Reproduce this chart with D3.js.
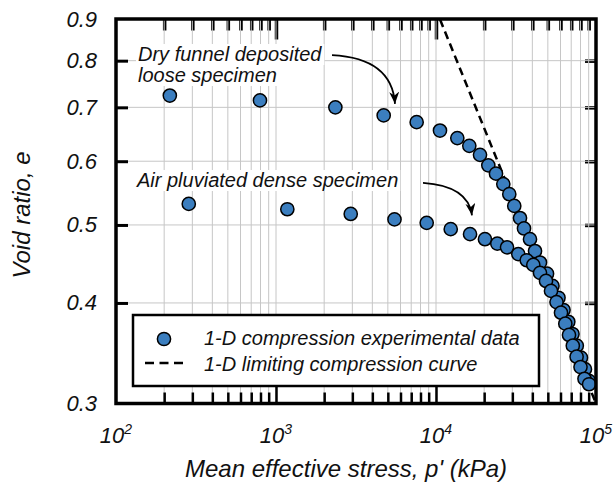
<!DOCTYPE html>
<html>
<head>
<meta charset="utf-8">
<script src="https://cdn.jsdelivr.net/npm/d3@7"></script>
<style>
  body { margin: 0; background: #fff; }
  text { font-family: "Liberation Sans", Arial, sans-serif; font-style: italic; fill: #111; }
</style>
</head>
<body>
<svg id="chart" width="614" height="487"></svg>
<script>
// Dry funnel deposited loose specimen: mean effective stress p' (kPa) and void ratio e
const looseP = [217, 794, 2350, 4710, 7570, 10590, 13590, 16150, 18840, 21230, 23710, 26340, 28710, 30840,
                33500, 35480, 38680, 41580, 44670, 49430, 53460, 58300, 62660, 67130, 71300, 75860, 80540, 85310, 90380];
const looseE = [0.724, 0.714, 0.700, 0.684, 0.671, 0.655, 0.641, 0.627, 0.611, 0.593, 0.579, 0.562, 0.546, 0.528,
                0.510, 0.495, 0.480, 0.464, 0.449, 0.435, 0.420, 0.406, 0.392, 0.379, 0.366, 0.354, 0.342, 0.331, 0.320];

// Air pluviated dense specimen
const denseP = [285, 1177, 2931, 5503, 8748, 12360, 16320, 20230, 24160, 27790, 32690, 36890, 40560, 44670,
                48700, 52330, 56640, 60430, 64290, 67800, 71620, 75650, 80010, 84730, 90500];
const denseE = [0.531, 0.523, 0.516, 0.508, 0.503, 0.494, 0.487, 0.480, 0.474, 0.469, 0.460, 0.452, 0.446, 0.436,
                0.426, 0.414, 0.401, 0.389, 0.377, 0.365, 0.354, 0.343, 0.333, 0.322, 0.317];

// 1-D limiting compression curve (straight in log-log space)
const lccP = [10600, 100000];
const lccE = [0.9, 0.3];

// Axis ticks and labels
const xDecades = [100, 1000, 10000, 100000];
const xExponents = ["2", "3", "4", "5"];
const yTicks = [0.3, 0.4, 0.5, 0.6, 0.7, 0.8, 0.9];
const yTickLabels = ["0.3", "0.4", "0.5", "0.6", "0.7", "0.8", "0.9"];

const xTitle = "Mean effective stress, p' (kPa)";
const yTitle = "Void ratio, e";
const legendLabels = ["1-D compression experimental data", "1-D limiting compression curve"];

const svg = d3.select("#chart");
const x = d3.scaleLog().domain([100, 100000]).range([116, 596]);
const y = d3.scaleLog().domain([0.3, 0.9]).range([403.5, 19.5]);

const pLeft = x(100), pRight = x(100000), pTop = y(0.9), pBottom = y(0.3);

const xMinor = [];
[100, 1000, 10000].forEach(d => { for (let k = 2; k <= 9; k++) xMinor.push(d * k); });
const xInnerMajor = [1000, 10000];
const yInner = yTicks.filter(v => v > 0.3 && v < 0.9);

const blue = "#3b7ebf";

// Ticks on top and right (grid runs over them)
function styleTicks(g, w) {
  g.select(".domain").remove();
  g.selectAll(".tick line").attr("stroke", "#000").attr("stroke-width", w);
}
svg.append("g").attr("transform", `translate(0,${pTop})`)
  .call(d3.axisTop(x).tickValues(xMinor).tickSize(-11).tickFormat(""))
  .call(g => styleTicks(g, 3.5));
svg.append("g").attr("transform", `translate(0,${pTop})`)
  .call(d3.axisTop(x).tickValues(xInnerMajor).tickSize(-20).tickFormat(""))
  .call(g => styleTicks(g, 3.5));
svg.append("g").attr("transform", `translate(${pRight},0)`)
  .call(d3.axisRight(y).tickValues(yInner).tickSize(-11).tickFormat(""))
  .call(g => styleTicks(g, 3.5));

// Grid
const grid = svg.append("g").attr("stroke", "#c6c6c6").attr("stroke-width", 1);
grid.selectAll("line.gx").data(xMinor.concat(xInnerMajor)).join("line").attr("class", "gx")
  .attr("x1", d => x(d)).attr("x2", d => x(d)).attr("y1", pTop).attr("y2", pBottom);
grid.selectAll("line.gy").data(yInner).join("line").attr("class", "gy")
  .attr("x1", pLeft).attr("x2", pRight).attr("y1", d => y(d)).attr("y2", d => y(d));

// Ticks on bottom and left
svg.append("g").attr("transform", `translate(0,${pBottom})`)
  .call(d3.axisBottom(x).tickValues(xMinor).tickSize(-11).tickFormat(""))
  .call(g => styleTicks(g, 2.5));
svg.append("g").attr("transform", `translate(0,${pBottom})`)
  .call(d3.axisBottom(x).tickValues(xInnerMajor).tickSize(-17).tickFormat(""))
  .call(g => styleTicks(g, 2.5));
svg.append("g").attr("transform", `translate(${pLeft},0)`)
  .call(d3.axisLeft(y).tickValues(yInner).tickSize(-12).tickFormat(""))
  .call(g => styleTicks(g, 3));

// Annotation text with white backing
function annot(lines, x0, baselines) {
  const g = svg.append("g");
  const t = g.append("g");
  lines.forEach((s, i) => {
    t.append("text").attr("x", x0).attr("y", baselines[i]).attr("font-size", 20).text(s);
  });
  t.selectAll("text").each(function () {
    const b = this.getBBox();
    g.insert("rect", ":first-child").attr("x", b.x - 2).attr("y", b.y + 1)
      .attr("width", b.width + 4).attr("height", b.height - 1).attr("fill", "#fff");
  });
}
annot(["Dry funnel deposited", "loose specimen"], 138, [61, 82]);
annot(["Air pluviated dense specimen"], 137, [187]);

// Arrows
svg.append("defs").append("marker")
  .attr("id", "head").attr("viewBox", "0 0 12 10").attr("refX", 12).attr("refY", 5)
  .attr("markerWidth", 12).attr("markerHeight", 10).attr("markerUnits", "userSpaceOnUse")
  .attr("orient", "auto")
  .append("path").attr("d", "M0,0 L12,5 L0,10 L3.5,5 Z").attr("fill", "#000");

const arrows = [
  { from: [2239, 0.813], ctrl: [5309, 0.806], to: [5543, 0.707] },
  { from: [8294, 0.5638], ctrl: [15850, 0.559], to: [16790, 0.514] }
];
arrows.forEach(a => {
  const p = d3.path();
  p.moveTo(x(a.from[0]), y(a.from[1]));
  p.quadraticCurveTo(x(a.ctrl[0]), y(a.ctrl[1]), x(a.to[0]), y(a.to[1]));
  svg.append("path").attr("d", p.toString()).attr("fill", "none")
    .attr("stroke", "#000").attr("stroke-width", 1.8).attr("marker-end", "url(#head)");
});

// Clip region for plot marks
svg.append("clipPath").attr("id", "plotclip").append("rect")
  .attr("x", pLeft).attr("y", pTop).attr("width", pRight - pLeft).attr("height", pBottom - pTop);

// Limiting compression curve
const lcc = lccP.map((p, i) => [p, lccE[i]]);
svg.append("path").attr("clip-path", "url(#plotclip)")
  .attr("d", d3.line().x(d => x(d[0])).y(d => y(d[1]))(lcc))
  .attr("fill", "none").attr("stroke", "#000").attr("stroke-width", 2.5).attr("stroke-dasharray", "8,5");

// Experimental points
const loose = looseP.map((p, i) => [p, looseE[i]]);
const dense = denseP.map((p, i) => [p, denseE[i]]);
[loose, dense].forEach(series => {
  svg.append("g").selectAll("circle").data(series).join("circle")
    .attr("cx", d => x(d[0])).attr("cy", d => y(d[1])).attr("r", 6.6)
    .attr("fill", blue).attr("stroke", "#000").attr("stroke-width", 1.5);
});

// Frame
svg.append("rect").attr("x", pLeft).attr("y", pTop - 0.5).attr("width", pRight - pLeft).attr("height", pBottom - pTop + 0.5)
  .attr("fill", "none").attr("stroke", "#000").attr("stroke-width", 3.5);

// Legend
const lg = svg.append("g");
lg.append("rect").attr("x", 133).attr("y", 315).attr("width", 406).attr("height", 71)
  .attr("fill", "#fff").attr("stroke", "#000").attr("stroke-width", 2.5);
lg.append("circle").attr("cx", 164).attr("cy", 339).attr("r", 6.6)
  .attr("fill", blue).attr("stroke", "#000").attr("stroke-width", 1.5);
lg.append("line").attr("x1", 145).attr("x2", 184).attr("y1", 363).attr("y2", 363)
  .attr("stroke", "#000").attr("stroke-width", 2.5).attr("stroke-dasharray", "9,5.5");
lg.selectAll("text").data(legendLabels).join("text")
  .attr("x", 204).attr("y", (d, i) => 345 + i * 25.5).attr("font-size", 20).text(d => d);

// Tick labels
svg.append("g").selectAll("text").data(yTicks).join("text")
  .attr("x", 97).attr("y", d => y(d)).attr("dominant-baseline", "central")
  .attr("text-anchor", "end").attr("font-size", 22)
  .text((d, i) => yTickLabels[i]);

const xl = svg.append("g").selectAll("text").data(xDecades).join("text")
  .attr("x", d => x(d)).attr("y", 443).attr("text-anchor", "middle").attr("font-size", 22);
xl.append("tspan").text("10");
xl.append("tspan").attr("dy", -9).attr("font-size", 14).text((d, i) => xExponents[i]);

// Axis titles
svg.append("text").attr("x", 346).attr("y", 477).attr("text-anchor", "middle")
  .attr("font-size", 24).text(xTitle);
svg.append("text").attr("transform", "translate(30,215) rotate(-90)").attr("text-anchor", "middle")
  .attr("font-size", 24).text(yTitle);
</script>
</body>
</html>
